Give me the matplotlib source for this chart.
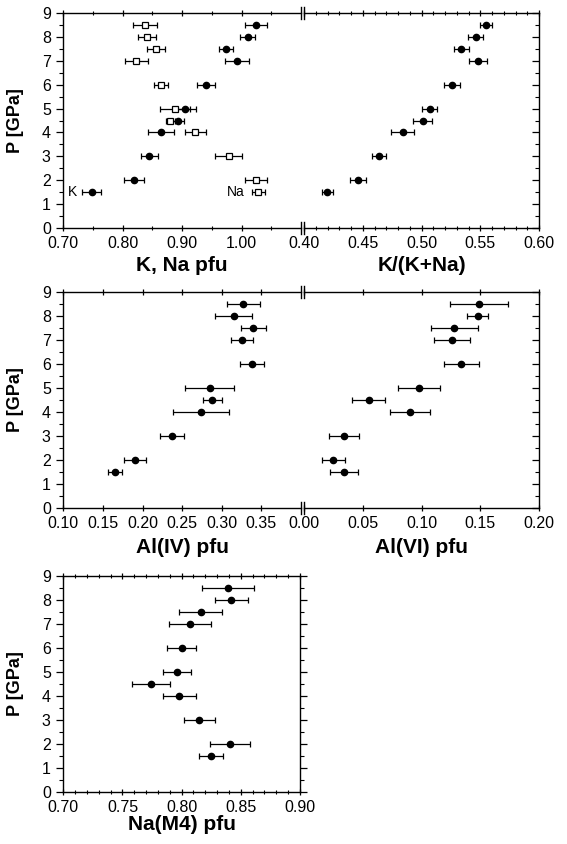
import matplotlib
matplotlib.use("Agg")
import matplotlib.pyplot as plt
from matplotlib.ticker import FixedLocator, MultipleLocator

plt.rcParams['font.family'] = ['Liberation Sans', 'DejaVu Sans']

# ===== data =====
P = [8.5, 8.0, 7.5, 7.0, 6.0, 5.0, 4.5, 4.0, 3.0, 2.0, 1.5]

# K, Na pfu
k_pfu = [1.024, 1.010, 0.974, 0.992, 0.940, 0.905, 0.893, 0.864, 0.845, 0.819, 0.748]
k_err = [0.018, 0.012, 0.012, 0.020, 0.015, 0.018, 0.010, 0.022, 0.015, 0.017, 0.016]
na_pfu = [0.838, 0.841, 0.856, 0.823, 0.864, 0.888, 0.880, 0.922, 0.978, 1.024, 1.028]
na_err = [0.020, 0.015, 0.015, 0.019, 0.012, 0.025, 0.008, 0.018, 0.022, 0.019, 0.011]

# K/(K+Na)
k_ratio = [0.555, 0.546, 0.534, 0.548, 0.526, 0.507, 0.501, 0.484, 0.464, 0.446, 0.420]
k_ratio_err = [0.0054, 0.0066, 0.0064, 0.0077, 0.0067, 0.0066, 0.0079, 0.0097, 0.0059, 0.0067, 0.0049]

# Al(IV), Al(VI)
al_iv = [0.327, 0.315, 0.340, 0.326, 0.338, 0.285, 0.288, 0.274, 0.237, 0.190, 0.165]
al_iv_err = [0.021, 0.023, 0.016, 0.014, 0.015, 0.031, 0.012, 0.035, 0.015, 0.014, 0.009]
al_vi = [0.149, 0.148, 0.128, 0.126, 0.134, 0.098, 0.055, 0.090, 0.034, 0.025, 0.034]
al_vi_err = [0.025, 0.009, 0.020, 0.015, 0.015, 0.018, 0.014, 0.017, 0.013, 0.010, 0.012]

# Na(M4)
na_m4 = [0.839, 0.842, 0.816, 0.807, 0.800, 0.796, 0.774, 0.798, 0.815, 0.841, 0.825]
na_m4_err = [0.022, 0.014, 0.018, 0.018, 0.012, 0.012, 0.016, 0.014, 0.013, 0.017, 0.010]

# ===== figure =====
W, H = 567, 844
fig = plt.figure(figsize=(W / 100, H / 100), dpi=100)


def box(x0, y0, x1, y1):
    # pixel box -> figure fraction
    return [x0 / W, 1 - y1 / H, (x1 - x0) / W, (y1 - y0) / H]


def style(ax, lim, major, minor, side, xlabel, label_y):
    ax.set_xlim(*lim)
    ax.set_ylim(0, 9)
    ax.xaxis.set_major_locator(FixedLocator(major))
    ax.set_xticklabels(['%.2f' % v for v in major])
    if minor:
        ax.xaxis.set_minor_locator(FixedLocator(minor))
    ax.yaxis.set_major_locator(MultipleLocator(1))
    ax.yaxis.set_minor_locator(MultipleLocator(0.5))
    for s in ax.spines.values():
        s.set_linewidth(1.0)
    ax.tick_params(axis='x', which='both', top=True, bottom=True, direction='inout',
                   labelsize=11.5, pad=3)
    ax.tick_params(axis='x', which='major', length=5, width=0.9)
    ax.tick_params(axis='x', which='minor', length=3, width=0.8)
    if side in ('left', 'single'):
        ax.tick_params(axis='y', which='both', left=True, right=(side == 'single'),
                       direction='out', labelsize=11.5, pad=4)
        if side == 'single':
            ax.tick_params(axis='y', which='both', right=True)
        ax.set_ylabel('P [GPa]', fontsize=13, fontweight='bold')
        ax.yaxis.set_label_coords(-0.165, 0.5)
    else:
        ax.tick_params(axis='y', which='both', left=False, right=True,
                       labelleft=False, direction='in')
    ax.tick_params(axis='y', which='major', length=5, width=0.9)
    ax.tick_params(axis='y', which='minor', length=3, width=0.8)
    if side == 'left':
        ax.spines['right'].set_visible(False)
    if side == 'right':
        ax.spines['left'].set_visible(False)
    ax.set_xlabel(xlabel, fontsize=15, fontweight='bold')
    ax.xaxis.set_label_coords(0.5, label_y)


def breaks(ax_l, ax_r):
    d = 0.028
    for y in (0, 1):
        ax_l.plot([1, 1], [y - d, y + d], transform=ax_l.transAxes, color='k',
                  lw=1, clip_on=False)
        ax_r.plot([0, 0], [y - d, y + d], transform=ax_r.transAxes, color='k',
                  lw=1, clip_on=False)


def filled(ax, x, xerr):
    ax.errorbar(x, P, xerr=xerr, fmt='o', color='k', ms=4.5, capsize=2.2,
                elinewidth=0.9, capthick=0.9)


def opened(ax, x, xerr):
    ax.errorbar(x, P, xerr=xerr, fmt='s', color='k', mfc='white', mec='k', mew=0.9,
                ms=4.8, capsize=2.2, elinewidth=0.9, capthick=0.9)


# --- row 1: K, Na pfu | K/(K+Na) ---
ax1 = fig.add_axes(box(63.3, 13, 301, 228))
ax2 = fig.add_axes(box(304, 13, 539, 228))
opened(ax1, na_pfu, na_err)
filled(ax1, k_pfu, k_err)
ax1.text(0.716, 1.5, 'K', fontsize=10, va='center', ha='center')
ax1.text(0.990, 1.5, 'Na', fontsize=10, va='center', ha='center')
style(ax1, (0.70, 1.10), [0.70, 0.80, 0.90, 1.00], [0.75, 0.85, 0.95, 1.05],
      'left', 'K, Na pfu', -0.13)
filled(ax2, k_ratio, k_ratio_err)
style(ax2, (0.40, 0.60), [0.40, 0.45, 0.50, 0.55, 0.60],
      [0.40 + 0.01 * i for i in range(1, 20) if i % 5],
      'right', 'K/(K+Na)', -0.13)
breaks(ax1, ax2)

# --- row 2: Al(IV) | Al(VI) ---
ax3 = fig.add_axes(box(63.3, 292, 301, 508))
ax4 = fig.add_axes(box(304, 292, 539, 508))
filled(ax3, al_iv, al_iv_err)
style(ax3, (0.10, 0.40), [0.10, 0.15, 0.20, 0.25, 0.30, 0.35], None,
      'left', 'Al(IV) pfu', -0.14)
filled(ax4, al_vi, al_vi_err)
style(ax4, (0.00, 0.20), [0.00, 0.05, 0.10, 0.15, 0.20], None,
      'right', 'Al(VI) pfu', -0.14)
breaks(ax3, ax4)

# --- row 3: Na(M4) ---
ax5 = fig.add_axes(box(63.3, 576, 300, 792))
filled(ax5, na_m4, na_m4_err)
style(ax5, (0.70, 0.90), [0.70, 0.75, 0.80, 0.85, 0.90],
      [0.70 + 0.01 * i for i in range(1, 20) if i % 5],
      'single', 'Na(M4) pfu', -0.105)

fig.savefig('out.png', dpi=100)
